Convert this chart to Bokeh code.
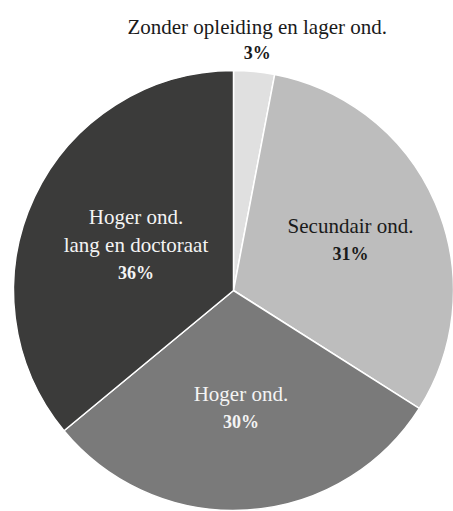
import numpy as np
from bokeh.plotting import figure
from bokeh.models import ColumnDataSource, Range1d
from bokeh.core.properties import value
from bokeh.embed import file_html
from bokeh.resources import INLINE

# ---- data ----
categories = ["Zonder opleiding en lager ond.", "Secundair ond.", "Hoger ond.", "Hoger ond.\nlang en doctoraat"]
shares = [3, 31, 30, 36]

# ---- style ----
colors = ["#e0e0e0", "#bdbdbd", "#7a7a7a", "#3b3b3a"]
label_colors = ["#1a1a1a", "#1a1a1a", "#f4f4f4", "#f4f4f4"]
label_radius = [1.145, 0.58, 0.537, 0.49]
FONT = "Liberation Serif"
LH = 28

W, H = 453, 511
cx, cy, R = 233, 221, 220

p = figure(width=W, height=H, x_range=Range1d(0, W), y_range=Range1d(0, H),
           x_axis_type=None, y_axis_type=None, output_backend="svg",
           toolbar_location=None, min_border=0)
p.grid.visible = False
p.outline_line_color = None
p.background_fill_color = "white"
p.border_fill_color = "white"

frac = np.array(shares, dtype=float) / sum(shares)
cum_end = np.cumsum(frac)
cum_start = cum_end - frac
start = np.pi / 2 - 2 * np.pi * cum_end
end = np.pi / 2 - 2 * np.pi * cum_start

src = ColumnDataSource(dict(x=[cx] * 4, y=[cy] * 4, start=start, end=end, color=colors))
p.wedge(x="x", y="y", radius=R, start_angle="start", end_angle="end", direction="anticlock",
        fill_color="color", line_color="white", line_width=1.5, source=src)

name_d = dict(x=[], y=[], t=[], c=[])
pct_d = dict(x=[], y=[], t=[], c=[])
mid = np.pi * (cum_start + cum_end)
for i, (name, s) in enumerate(zip(categories, shares)):
    k = label_radius[i]
    lx = cx + k * R * np.sin(mid[i])
    ly = cy + k * R * np.cos(mid[i])
    lines = name.split("\n") + [f"{s}%"]
    n = len(lines)
    lh = 26 if k > 1 else LH
    for j, line in enumerate(lines):
        yy = ly + ((n - 1) / 2 - j) * lh
        d = pct_d if j == n - 1 else name_d
        d["x"].append(lx); d["y"].append(yy); d["t"].append(line); d["c"].append(label_colors[i])

p.text(x="x", y="y", text="t", text_color="c", source=ColumnDataSource(name_d),
       text_font=value(FONT), text_font_size="21px", text_align="center", text_baseline="middle")
p.text(x="x", y="y", text="t", text_color="c", source=ColumnDataSource(pct_d),
       text_font=value(FONT), text_font_size="18px", text_font_style="bold",
       text_align="center", text_baseline="middle")

open("out.html", "w").write(file_html(p, INLINE))
